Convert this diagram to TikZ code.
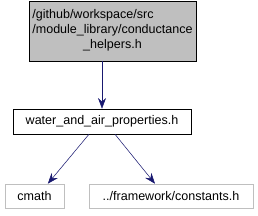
\documentclass[tikz,border=0pt]{standalone}
\usepackage{fontspec}
\setmainfont{Liberation Sans}
\usetikzlibrary{arrows.meta,positioning}
\definecolor{incfond}{HTML}{BFBFBF}
\definecolor{incgris}{HTML}{BFBFBF}
\definecolor{inclien}{HTML}{191970}

\begin{document}
\begin{tikzpicture}[x=0.75pt,y=-0.75pt, every node/.style={font=\fontsize{9.4}{11.25}\selectfont, inner sep=0pt},
  lien/.style={-{Stealth[length=8pt,width=6pt]},inclien}]
  % Cadre
  \useasboundingbox (0,0) rectangle (258,216);
  % Fichier courant
  \node[draw=black,fill=incfond,minimum width=167*0.75pt,minimum height=60*0.75pt]
    (helpers) at (112.5,31){\begin{tabular}{@{}l@{}}/github/workspace/src\\/module\_library/conductance\\
      \multicolumn{1}{@{}c@{}}{\_helpers.h}\end{tabular}};
  % Inclusion directe
  \node[draw=black,fill=white,minimum width=178*0.75pt,minimum height=25*0.75pt]
    (props) at (102,121.5){water\_and\_air\_properties.h};
  % Inclusions systeme
  \node[draw=incgris,minimum width=59*0.75pt,minimum height=24*0.75pt]
    (cmath) at (34.5,196){cmath};
  \node[draw=incgris,minimum width=164*0.75pt,minimum height=24*0.75pt]
    (consts) at (171,196){../framework/constants.h};
  % Points de depart et d'arrivee
  \coordinate (pa) at ([xshift=-9.75pt]props.south);
  \coordinate (pb) at ([xshift=9.75pt]props.south);
  \coordinate (qa) at ([xshift=10pt]cmath.north);
  \coordinate (qb) at ([xshift=-12pt]consts.north);
  % Liens
  \draw[lien] (helpers.south -| props.north) -- (props.north);
  \draw[lien] (pa) -- (qa);
  \draw[lien] (pb) -- (qb);
\end{tikzpicture}
\end{document}
